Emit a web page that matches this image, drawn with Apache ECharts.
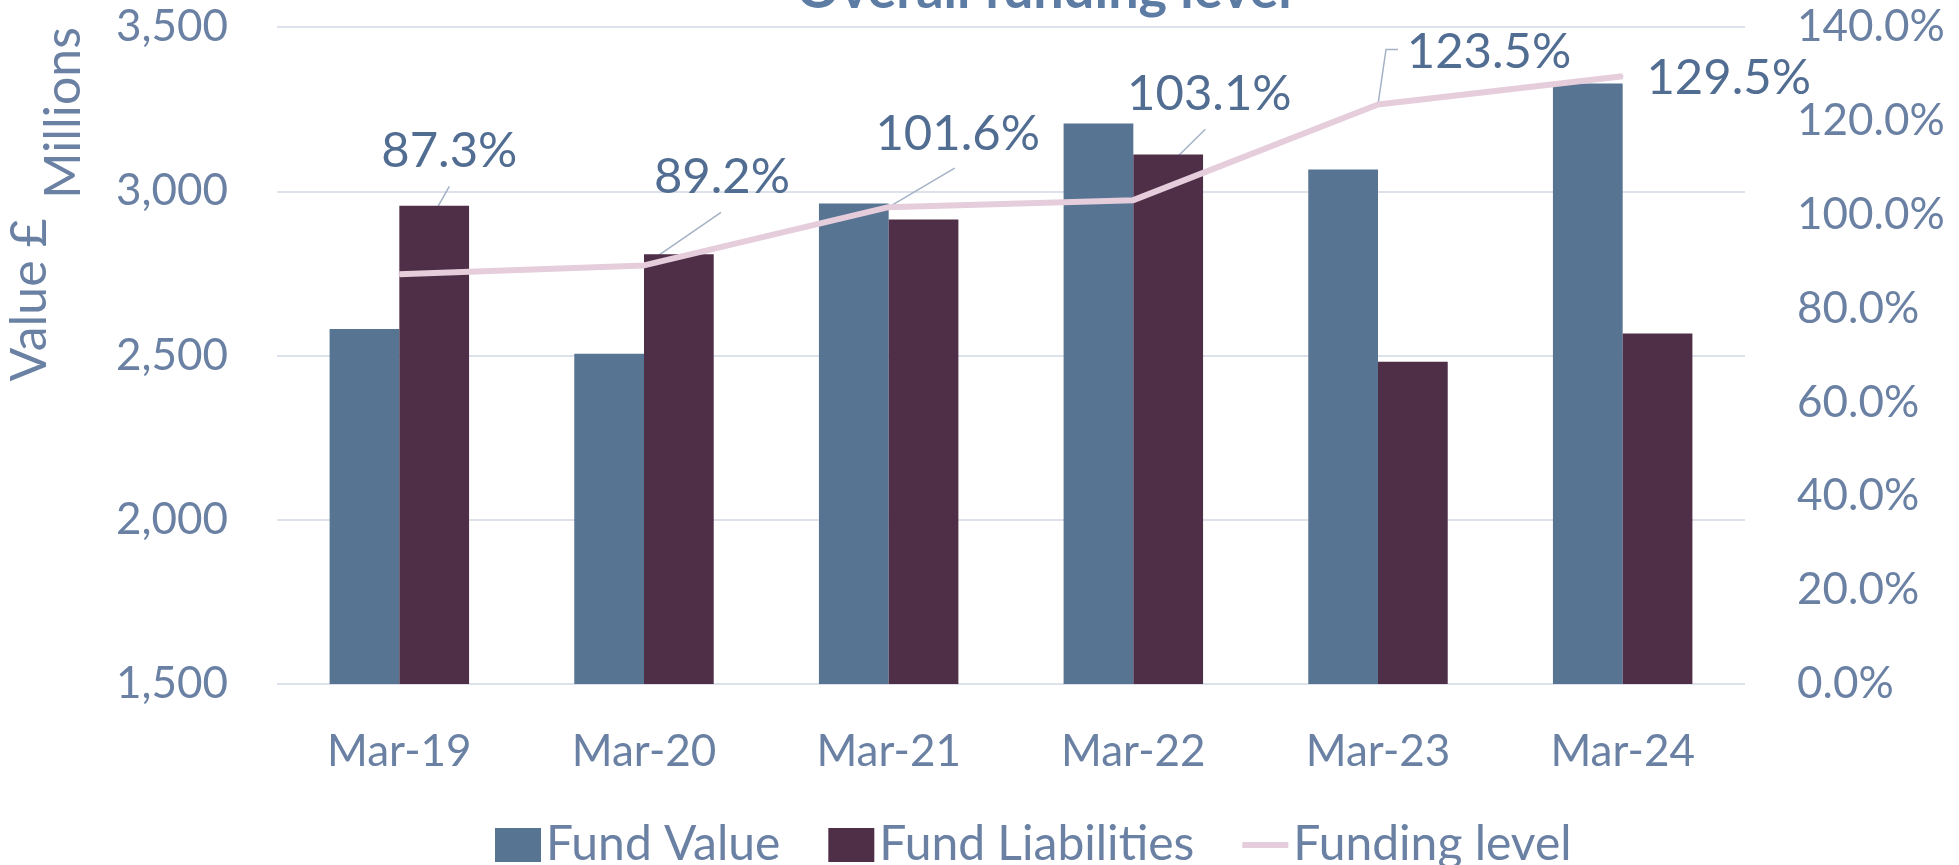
<!DOCTYPE html>
<html>
<head>
<meta charset="utf-8">
<script src="https://cdn.jsdelivr.net/npm/echarts@6/dist/echarts.min.js"></script>
<style>
  html, body { margin: 0; padding: 0; background: #fff; }
  #chart { width: 1959px; height: 865px; }
</style>
</head>
<body>
<div id="chart"></div>
<script>
// values
const categories = ['Mar-19', 'Mar-20', 'Mar-21', 'Mar-22', 'Mar-23', 'Mar-24'];
const fundValue = [2581, 2505, 2963, 3206, 3066, 3328];
const fundLiabilities = [2956, 2808, 2914, 3112, 2481, 2567];
const fundingLevel = [87.3, 89.2, 101.6, 103.1, 123.5, 129.5];
const valueTicks = { min: 1500, max: 3500, step: 500 };
const levelTicks = { min: 0, max: 140, step: 20 };

// where each data label sits, relative to its point (px)
const labelShift = [[50, -93], [78, -58], [69, -43], [76, -75], [111, -22], [106, 32]];
// leader lines, as offsets from the point
const leaderPath = [[[50, -88]], [[77, -53]], [[66, -39]], [[72, -71]], [[8, -55], [20, -55]], []];

const font = 'Lato';
const tickColor = '#6a81a4';
const labelColor = '#526d92';

const chart = echarts.init(document.getElementById('chart'));

const option = {
  animation: false,
  backgroundColor: '#fff',
  graphic: [
    {
      type: 'text', x: 1044, y: -9,
      style: { text: 'Overall funding level', fontSize: 54, fontWeight: 'bold', fontFamily: font, fill: '#5d7ca4', align: 'center', verticalAlign: 'middle' }
    },
    {
      type: 'text', x: 30, y: 300, rotation: Math.PI / 2,
      style: { text: 'Value £', fontSize: 50, fontFamily: font, fill: tickColor, align: 'center', verticalAlign: 'middle' }
    },
    {
      type: 'text', x: 64, y: 113, rotation: Math.PI / 2,
      style: { text: 'Millions', fontSize: 50, fontFamily: font, fill: tickColor, align: 'center', verticalAlign: 'middle' }
    }
  ],
  grid: { left: 277, right: 214, top: 27, bottom: 181 },
  legend: {
    left: 490,
    top: 816,
    itemWidth: 46,
    itemHeight: 34,
    itemGap: 48,
    textStyle: { fontFamily: font, fontSize: 48, color: tickColor },
    data: [
      { name: 'Fund Value', icon: 'rect' },
      { name: 'Fund Liabilities', icon: 'rect' },
      { name: 'Funding level', icon: 'path://M0,0H10V1.3H0Z' }
    ]
  },
  xAxis: {
    type: 'category',
    data: categories,
    axisLine: { show: false },
    axisTick: { show: false },
    axisLabel: { color: tickColor, fontFamily: font, fontSize: 44, margin: 46 }
  },
  yAxis: [
    {
      type: 'value',
      min: valueTicks.min,
      max: valueTicks.max,
      interval: valueTicks.step,
      axisLine: { show: false },
      axisTick: { show: false },
      axisLabel: {
        color: tickColor, fontFamily: font, fontSize: 44, margin: 49,
        formatter: v => v.toLocaleString('en-GB')
      },
      splitLine: { lineStyle: { color: '#dce1ea', width: 2 } }
    },
    {
      type: 'value',
      min: levelTicks.min,
      max: levelTicks.max,
      interval: levelTicks.step,
      axisLine: { show: false },
      axisTick: { show: false },
      splitLine: { show: false },
      axisLabel: {
        color: tickColor, fontFamily: font, fontSize: 44, margin: 52,
        formatter: v => v.toFixed(1) + '%'
      }
    }
  ],
  series: [
    {
      name: 'Fund Value',
      type: 'bar',
      data: fundValue,
      barGap: '0%',
      barCategoryGap: '43%',
      itemStyle: { color: '#577493' }
    },
    {
      name: 'Fund Liabilities',
      type: 'bar',
      data: fundLiabilities,
      itemStyle: { color: '#4f2f47' }
    },
    {
      // leader lines from the points to their labels
      name: 'leaders',
      type: 'custom',
      yAxisIndex: 1,
      silent: true,
      data: fundingLevel.map((v, i) => [i, v]),
      renderItem: function (params, api) {
        const p = api.coord([api.value(0), api.value(1)]);
        const path = leaderPath[params.dataIndex];
        if (!path.length) return null;
        const pts = [p].concat(path.map(o => [p[0] + o[0], p[1] + o[1]]));
        return {
          type: 'polyline',
          shape: { points: pts },
          style: { stroke: '#a4b2c5', lineWidth: 1.5, fill: null }
        };
      }
    },
    {
      name: 'Funding level',
      type: 'line',
      yAxisIndex: 1,
      data: fundingLevel,
      symbol: 'circle',
      symbolSize: 2,
      color: '#e5cddc',
      lineStyle: { color: '#e5cddc', width: 6 },
      itemStyle: { color: '#e5cddc' },
      label: {
        show: true,
        position: 'top',
        distance: 5,
        color: labelColor,
        fontFamily: font,
        fontSize: 49,
        formatter: p => p.value.toFixed(1) + '%'
      },
      labelLayout: function (params) {
        const s = labelShift[params.dataIndex];
        return { dx: s[0], dy: s[1] };
      },
      z: 3
    }
  ]
};

chart.setOption(option);
</script>
</body>
</html>
